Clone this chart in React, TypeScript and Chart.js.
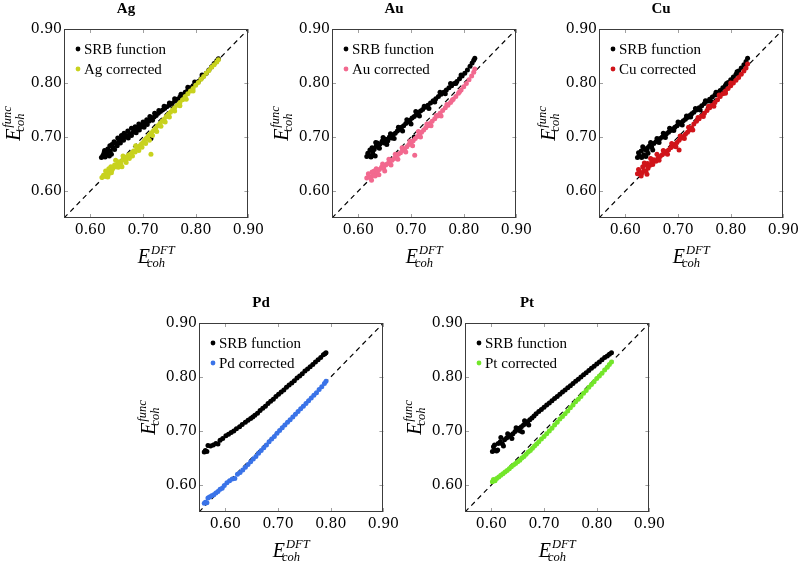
import React, { useEffect, useRef } from "react";
import { Chart, registerables } from "chart.js";

Chart.register(...registerables);

type Pt = [number, number];

const AXIS_MIN = 0.55;
const AXIS_MAX = 0.9;
const TICK_VALUES = [0.6, 0.7, 0.8, 0.9];
const DIAGONAL: Pt[] = [[0.55, 0.55], [0.9, 0.9]];
const SRB_LABEL = "SRB function";
const X_TITLE_SUP = "DFT";
const Y_TITLE_SUP = "func";
const TITLE_SUB = "coh";

const agSrb: Pt[] = [
  [0.621, 0.662], [0.624, 0.666], [0.628, 0.663], [0.632, 0.667], [0.636, 0.665], [0.640, 0.668],
  [0.627, 0.675], [0.633, 0.678], [0.638, 0.674], [0.643, 0.680], [0.646, 0.677], [0.641, 0.686],
  [0.648, 0.688], [0.651, 0.684], [0.654, 0.693], [0.657, 0.689], [0.660, 0.697], [0.663, 0.694],
  [0.666, 0.700], [0.669, 0.703], [0.672, 0.698], [0.675, 0.706], [0.678, 0.703], [0.681, 0.709],
  [0.684, 0.712], [0.687, 0.708], [0.690, 0.716], [0.693, 0.713], [0.696, 0.719], [0.699, 0.722],
  [0.702, 0.718], [0.705, 0.726], [0.708, 0.723], [0.711, 0.729], [0.715, 0.697], [0.714, 0.733],
  [0.718, 0.731], [0.721, 0.737], [0.725, 0.740], [0.729, 0.744], [0.733, 0.747], [0.737, 0.750],
  [0.741, 0.753], [0.745, 0.756], [0.750, 0.759], [0.755, 0.762], [0.760, 0.766], [0.765, 0.770],
  [0.770, 0.774], [0.775, 0.778], [0.780, 0.783], [0.785, 0.787], [0.790, 0.791], [0.795, 0.795],
  [0.800, 0.799], [0.805, 0.803], [0.810, 0.808], [0.815, 0.813], [0.820, 0.818], [0.825, 0.824],
  [0.830, 0.830], [0.835, 0.836], [0.840, 0.841], [0.843, 0.845],
  [0.626, 0.671], [0.631, 0.672], [0.637, 0.684], [0.645, 0.691], [0.652, 0.698], [0.659, 0.703],
  [0.664, 0.707], [0.671, 0.711], [0.678, 0.716], [0.685, 0.719], [0.692, 0.724], [0.700, 0.728],
  [0.707, 0.732], [0.713, 0.738], [0.722, 0.744], [0.730, 0.749], [0.740, 0.757], [0.750, 0.763],
  [0.760, 0.771], [0.772, 0.779], [0.785, 0.792], [0.798, 0.802], [0.812, 0.815],
];
const agCorrected: Pt[] = [
  [0.622, 0.625], [0.625, 0.629], [0.628, 0.627], [0.631, 0.633], [0.634, 0.630], [0.637, 0.636],
  [0.640, 0.634], [0.635, 0.641], [0.639, 0.645], [0.643, 0.642], [0.646, 0.648], [0.649, 0.645],
  [0.652, 0.651], [0.655, 0.654], [0.658, 0.650], [0.660, 0.645], [0.661, 0.657], [0.664, 0.660],
  [0.667, 0.658], [0.670, 0.664], [0.673, 0.667], [0.676, 0.665], [0.679, 0.671], [0.682, 0.674],
  [0.685, 0.672], [0.688, 0.678], [0.691, 0.681], [0.694, 0.684], [0.697, 0.687], [0.700, 0.690],
  [0.703, 0.694], [0.706, 0.697], [0.709, 0.700], [0.712, 0.704], [0.715, 0.668], [0.716, 0.708],
  [0.720, 0.712], [0.724, 0.716], [0.728, 0.721], [0.732, 0.725], [0.736, 0.729], [0.740, 0.733],
  [0.744, 0.738], [0.748, 0.742], [0.752, 0.746], [0.756, 0.750], [0.760, 0.754], [0.765, 0.759],
  [0.770, 0.764], [0.775, 0.769], [0.780, 0.775], [0.785, 0.780], [0.790, 0.785], [0.795, 0.790],
  [0.800, 0.796], [0.805, 0.801], [0.810, 0.807], [0.815, 0.812], [0.820, 0.818], [0.825, 0.823],
  [0.830, 0.829], [0.835, 0.834], [0.840, 0.839], [0.843, 0.843],
  [0.629, 0.637], [0.633, 0.626], [0.641, 0.639], [0.648, 0.657], [0.653, 0.644], [0.662, 0.665],
  [0.668, 0.653], [0.674, 0.660], [0.680, 0.665], [0.686, 0.684], [0.692, 0.675], [0.698, 0.681],
  [0.705, 0.688], [0.712, 0.694], [0.718, 0.703], [0.726, 0.710], [0.734, 0.720], [0.742, 0.728],
  [0.750, 0.737], [0.760, 0.748], [0.770, 0.758], [0.782, 0.770], [0.795, 0.785],
];

const auSrb: Pt[] = [
  [0.616, 0.664], [0.620, 0.666], [0.624, 0.663], [0.628, 0.667], [0.632, 0.665], [0.622, 0.676],
  [0.626, 0.680], [0.630, 0.677], [0.634, 0.684], [0.638, 0.681], [0.636, 0.689], [0.641, 0.687],
  [0.645, 0.692], [0.649, 0.689], [0.652, 0.696], [0.656, 0.693], [0.659, 0.700], [0.663, 0.698],
  [0.666, 0.704], [0.670, 0.707], [0.674, 0.711], [0.678, 0.714], [0.682, 0.718], [0.686, 0.721],
  [0.690, 0.725], [0.694, 0.728], [0.698, 0.731], [0.702, 0.735], [0.706, 0.700], [0.706, 0.738],
  [0.710, 0.741], [0.714, 0.745], [0.718, 0.748], [0.722, 0.751], [0.727, 0.755], [0.732, 0.759],
  [0.737, 0.763], [0.742, 0.767], [0.747, 0.771], [0.752, 0.775], [0.757, 0.779], [0.762, 0.783],
  [0.767, 0.787], [0.772, 0.791], [0.777, 0.795], [0.782, 0.799], [0.787, 0.803], [0.792, 0.808],
  [0.797, 0.813], [0.802, 0.818], [0.807, 0.824], [0.812, 0.831], [0.816, 0.837], [0.819, 0.842],
  [0.821, 0.846],
  [0.618, 0.670], [0.627, 0.672], [0.633, 0.690], [0.640, 0.679], [0.647, 0.699], [0.654, 0.686],
  [0.661, 0.706], [0.668, 0.697], [0.676, 0.718], [0.684, 0.711], [0.692, 0.732], [0.700, 0.724],
  [0.709, 0.747], [0.716, 0.739], [0.725, 0.757], [0.734, 0.753], [0.745, 0.765], [0.755, 0.783],
  [0.765, 0.780], [0.775, 0.799], [0.785, 0.799], [0.795, 0.815],
];
const auCorrected: Pt[] = [
  [0.616, 0.624], [0.620, 0.627], [0.624, 0.625], [0.628, 0.630], [0.632, 0.628], [0.626, 0.635],
  [0.630, 0.637], [0.636, 0.634], [0.640, 0.640], [0.644, 0.644], [0.648, 0.642], [0.652, 0.648],
  [0.656, 0.651], [0.660, 0.654], [0.664, 0.657], [0.668, 0.660], [0.672, 0.664], [0.676, 0.668],
  [0.680, 0.671], [0.684, 0.675], [0.688, 0.678], [0.692, 0.682], [0.696, 0.686], [0.700, 0.689],
  [0.704, 0.693], [0.707, 0.666], [0.708, 0.697], [0.712, 0.701], [0.716, 0.705], [0.720, 0.709],
  [0.724, 0.713], [0.728, 0.717], [0.732, 0.721], [0.736, 0.725], [0.740, 0.729], [0.745, 0.734],
  [0.750, 0.739], [0.755, 0.744], [0.760, 0.749], [0.765, 0.754], [0.770, 0.759], [0.775, 0.764],
  [0.780, 0.770], [0.785, 0.775], [0.790, 0.781], [0.795, 0.787], [0.800, 0.793], [0.805, 0.799],
  [0.810, 0.806], [0.815, 0.813], [0.819, 0.820], [0.821, 0.826],
  [0.619, 0.632], [0.625, 0.620], [0.634, 0.641], [0.639, 0.630], [0.646, 0.650], [0.650, 0.637],
  [0.658, 0.659], [0.662, 0.648], [0.670, 0.668], [0.675, 0.659], [0.683, 0.680], [0.690, 0.672],
  [0.698, 0.692], [0.703, 0.684], [0.714, 0.710], [0.718, 0.700], [0.730, 0.724], [0.738, 0.721],
  [0.748, 0.740], [0.757, 0.739], [0.768, 0.760], [0.778, 0.768], [0.792, 0.784],
];

const cuSrb: Pt[] = [
  [0.623, 0.662], [0.627, 0.665], [0.631, 0.662], [0.635, 0.667], [0.639, 0.664], [0.643, 0.670],
  [0.630, 0.674], [0.637, 0.677], [0.642, 0.680], [0.646, 0.684], [0.650, 0.681], [0.654, 0.688],
  [0.658, 0.691], [0.662, 0.694], [0.666, 0.697], [0.670, 0.700], [0.674, 0.703], [0.678, 0.706],
  [0.682, 0.709], [0.686, 0.712], [0.690, 0.715], [0.694, 0.718], [0.698, 0.721], [0.702, 0.724],
  [0.706, 0.727], [0.710, 0.730], [0.714, 0.733], [0.718, 0.736], [0.722, 0.740], [0.726, 0.743],
  [0.730, 0.746], [0.735, 0.750], [0.740, 0.754], [0.745, 0.758], [0.750, 0.762], [0.755, 0.766],
  [0.760, 0.770], [0.765, 0.774], [0.770, 0.778], [0.775, 0.782], [0.780, 0.786], [0.785, 0.791],
  [0.790, 0.796], [0.795, 0.801], [0.800, 0.806], [0.805, 0.811], [0.810, 0.816], [0.815, 0.822],
  [0.820, 0.828], [0.825, 0.834], [0.829, 0.840], [0.832, 0.846],
  [0.625, 0.671], [0.633, 0.682], [0.641, 0.675], [0.648, 0.690], [0.652, 0.676], [0.660, 0.697],
  [0.664, 0.690], [0.672, 0.707], [0.676, 0.699], [0.684, 0.716], [0.692, 0.712], [0.700, 0.728],
  [0.708, 0.722], [0.716, 0.739], [0.724, 0.737], [0.733, 0.753], [0.742, 0.750], [0.752, 0.767],
  [0.762, 0.766], [0.772, 0.783], [0.782, 0.782], [0.792, 0.799], [0.802, 0.802], [0.812, 0.821],
];
const cuCorrected: Pt[] = [
  [0.623, 0.632], [0.627, 0.635], [0.631, 0.633], [0.635, 0.638], [0.639, 0.636], [0.643, 0.642],
  [0.633, 0.645], [0.638, 0.648], [0.642, 0.651], [0.646, 0.647], [0.650, 0.654], [0.654, 0.658],
  [0.658, 0.655], [0.662, 0.661], [0.666, 0.664], [0.670, 0.667], [0.674, 0.670], [0.678, 0.673],
  [0.682, 0.676], [0.686, 0.680], [0.690, 0.683], [0.694, 0.686], [0.698, 0.690], [0.702, 0.676],
  [0.702, 0.694], [0.706, 0.698], [0.710, 0.701], [0.714, 0.705], [0.718, 0.709], [0.722, 0.713],
  [0.726, 0.717], [0.730, 0.724], [0.735, 0.729], [0.740, 0.734], [0.745, 0.739], [0.750, 0.744],
  [0.755, 0.749], [0.760, 0.754], [0.765, 0.759], [0.770, 0.764], [0.775, 0.769], [0.780, 0.775],
  [0.785, 0.780], [0.790, 0.785], [0.795, 0.790], [0.800, 0.795], [0.805, 0.800], [0.810, 0.805],
  [0.815, 0.810], [0.820, 0.816], [0.825, 0.822], [0.829, 0.828], [0.832, 0.835],
  [0.625, 0.640], [0.630, 0.628], [0.636, 0.652], [0.641, 0.631], [0.648, 0.660], [0.652, 0.649],
  [0.660, 0.668], [0.664, 0.657], [0.672, 0.675], [0.680, 0.668], [0.688, 0.688], [0.696, 0.682],
  [0.704, 0.702], [0.712, 0.697], [0.720, 0.718], [0.728, 0.713], [0.738, 0.736], [0.748, 0.738],
  [0.758, 0.757], [0.768, 0.757], [0.778, 0.778], [0.790, 0.781], [0.800, 0.800],
];

const pdSrb: Pt[] = [
  [0.560, 0.661], [0.562, 0.664], [0.565, 0.662], [0.567, 0.673], [0.572, 0.672], [0.577, 0.674],
  [0.582, 0.677], [0.586, 0.676], [0.590, 0.683], [0.595, 0.686], [0.601, 0.691], [0.606, 0.694],
  [0.611, 0.697], [0.616, 0.700], [0.621, 0.704], [0.627, 0.708], [0.632, 0.712], [0.638, 0.716],
  [0.643, 0.720], [0.648, 0.723], [0.652, 0.726], [0.656, 0.729], [0.661, 0.733], [0.666, 0.738],
  [0.671, 0.742], [0.676, 0.746], [0.681, 0.751], [0.686, 0.755], [0.691, 0.759], [0.696, 0.764],
  [0.701, 0.768], [0.706, 0.772], [0.711, 0.776], [0.716, 0.781], [0.721, 0.785], [0.726, 0.789],
  [0.731, 0.793], [0.736, 0.798], [0.741, 0.802], [0.746, 0.806], [0.751, 0.811], [0.756, 0.815],
  [0.761, 0.819], [0.766, 0.823], [0.771, 0.828], [0.776, 0.832], [0.781, 0.836], [0.786, 0.841],
  [0.789, 0.843], [0.791, 0.845],
];
const pdCorrected: Pt[] = [
  [0.560, 0.566], [0.562, 0.568], [0.565, 0.567], [0.567, 0.576], [0.570, 0.578], [0.574, 0.580],
  [0.578, 0.582], [0.582, 0.585], [0.586, 0.588], [0.590, 0.592], [0.594, 0.594], [0.598, 0.599],
  [0.603, 0.604], [0.608, 0.608], [0.613, 0.611], [0.618, 0.612], [0.623, 0.620], [0.628, 0.623],
  [0.633, 0.628], [0.638, 0.633], [0.643, 0.638], [0.648, 0.643], [0.653, 0.648], [0.658, 0.653],
  [0.663, 0.659], [0.668, 0.664], [0.673, 0.669], [0.678, 0.674], [0.683, 0.680], [0.688, 0.685],
  [0.693, 0.690], [0.698, 0.696], [0.703, 0.701], [0.708, 0.706], [0.713, 0.711], [0.718, 0.716],
  [0.723, 0.721], [0.728, 0.726], [0.733, 0.731], [0.738, 0.736], [0.743, 0.741], [0.748, 0.746],
  [0.753, 0.751], [0.758, 0.756], [0.763, 0.761], [0.768, 0.766], [0.773, 0.771], [0.778, 0.777],
  [0.783, 0.782], [0.788, 0.788], [0.791, 0.792],
];

const ptSrb: Pt[] = [
  [0.602, 0.662], [0.604, 0.671], [0.607, 0.664], [0.610, 0.663], [0.613, 0.677], [0.617, 0.680],
  [0.621, 0.676], [0.625, 0.684], [0.629, 0.687], [0.633, 0.690], [0.637, 0.692], [0.641, 0.695],
  [0.645, 0.699], [0.649, 0.702], [0.653, 0.705], [0.657, 0.708], [0.659, 0.698], [0.661, 0.711],
  [0.665, 0.714], [0.669, 0.717], [0.673, 0.721], [0.677, 0.724], [0.681, 0.728], [0.685, 0.732],
  [0.690, 0.736], [0.695, 0.740], [0.700, 0.744], [0.705, 0.748], [0.710, 0.752], [0.715, 0.756],
  [0.720, 0.760], [0.725, 0.764], [0.730, 0.768], [0.735, 0.772], [0.740, 0.776], [0.745, 0.780],
  [0.750, 0.784], [0.755, 0.788], [0.760, 0.792], [0.765, 0.796], [0.770, 0.800], [0.775, 0.804],
  [0.780, 0.808], [0.785, 0.812], [0.790, 0.816], [0.795, 0.820], [0.800, 0.824], [0.805, 0.828],
  [0.810, 0.832], [0.815, 0.836], [0.820, 0.839], [0.824, 0.842], [0.828, 0.845],
  [0.606, 0.674], [0.612, 0.665], [0.618, 0.688], [0.623, 0.672], [0.631, 0.695], [0.639, 0.686],
  [0.647, 0.706], [0.655, 0.700], [0.663, 0.719], [0.671, 0.711],
];
const ptCorrected: Pt[] = [
  [0.602, 0.606], [0.604, 0.610], [0.607, 0.608], [0.610, 0.612], [0.614, 0.615], [0.618, 0.618],
  [0.622, 0.621], [0.626, 0.624], [0.630, 0.627], [0.634, 0.630], [0.638, 0.634], [0.642, 0.637],
  [0.646, 0.640], [0.650, 0.643], [0.654, 0.646], [0.658, 0.650], [0.662, 0.653], [0.666, 0.657],
  [0.670, 0.661], [0.674, 0.664], [0.678, 0.668], [0.682, 0.672], [0.686, 0.676], [0.690, 0.680],
  [0.695, 0.685], [0.700, 0.690], [0.705, 0.695], [0.710, 0.700], [0.715, 0.705], [0.720, 0.711],
  [0.725, 0.716], [0.730, 0.722], [0.735, 0.727], [0.740, 0.732], [0.745, 0.737], [0.750, 0.743],
  [0.755, 0.748], [0.760, 0.754], [0.765, 0.759], [0.770, 0.764], [0.775, 0.770], [0.780, 0.775],
  [0.785, 0.781], [0.790, 0.786], [0.795, 0.791], [0.800, 0.797], [0.805, 0.802], [0.810, 0.807],
  [0.815, 0.813], [0.820, 0.818], [0.824, 0.823], [0.828, 0.828],
];

const PANELS = [
  { metal: "Ag", color: "#c8d21e", srb: agSrb, corrected: agCorrected, left: 0, top: 0 },
  { metal: "Au", color: "#f2698f", srb: auSrb, corrected: auCorrected, left: 268, top: 0 },
  { metal: "Cu", color: "#d0141a", srb: cuSrb, corrected: cuCorrected, left: 535, top: 0 },
  { metal: "Pd", color: "#3a73e8", srb: pdSrb, corrected: pdCorrected, left: 135, top: 294 },
  { metal: "Pt", color: "#73e62a", srb: ptSrb, corrected: ptCorrected, left: 401, top: 294 },
];

const CANVAS_W = 268;
const CANVAS_H = 268;

const toXY = (arr: Pt[]) => arr.map(([x, y]) => ({ x, y }));

function drawEcoh(ctx: CanvasRenderingContext2D, sup: string, cx: number, cy: number, vertical: boolean) {
  const big = 'italic 20px "Liberation Serif"';
  const small = 'italic 12.5px "Liberation Serif"';
  ctx.save();
  ctx.font = big;
  const wE = ctx.measureText("E").width;
  ctx.font = small;
  const wSup = ctx.measureText(sup).width;
  const wSub = ctx.measureText(TITLE_SUB).width;
  const total = wE + Math.max(wSup + 1, wSub - 2);
  ctx.translate(cx, cy);
  if (vertical) ctx.rotate(-Math.PI / 2);
  const x0 = -total / 2;
  ctx.fillStyle = "#000";
  ctx.textAlign = "left";
  ctx.textBaseline = "alphabetic";
  ctx.font = big;
  ctx.fillText("E", x0, 0);
  ctx.font = small;
  ctx.fillText(sup, x0 + wE + 1, -9);
  ctx.fillText(TITLE_SUB, x0 + wE - 3, 4);
  ctx.restore();
}

const decorPlugin = {
  id: "panelDecor",
  afterDatasetsDraw(chart: any) {
    const { ctx, chartArea: a, scales } = chart;
    const xs = scales.x;
    const ys = scales.y;
    ctx.save();
    ctx.strokeStyle = "#a0a0a0";
    ctx.lineWidth = 1;
    ctx.beginPath();
    for (const v of TICK_VALUES) {
      const px = Math.round(xs.getPixelForValue(v)) + 0.5;
      ctx.moveTo(px, a.bottom);
      ctx.lineTo(px, a.bottom - 4);
      ctx.moveTo(px, a.top);
      ctx.lineTo(px, a.top + 4);
      const py = Math.round(ys.getPixelForValue(v)) + 0.5;
      ctx.moveTo(a.left, py);
      ctx.lineTo(a.left + 4, py);
      ctx.moveTo(a.right, py);
      ctx.lineTo(a.right - 4, py);
    }
    ctx.stroke();
    ctx.strokeStyle = "#3c3c3c";
    ctx.strokeRect(Math.round(a.left) + 0.5, Math.round(a.top) + 0.5, Math.round(a.width) - 1, Math.round(a.height) - 1);
    ctx.restore();
  },
  afterDraw(chart: any) {
    const { ctx, chartArea: a } = chart;
    const items = chart.data.datasets.filter((d: any) => d.label);
    ctx.save();
    items.forEach((d: any, i: number) => {
      const yy = a.top + 20 + i * 20;
      ctx.beginPath();
      ctx.arc(a.left + 14, yy, 2.4, 0, Math.PI * 2);
      ctx.fillStyle = d.backgroundColor;
      ctx.fill();
      ctx.font = '15px "Liberation Serif"';
      ctx.fillStyle = "#000";
      ctx.textAlign = "left";
      ctx.textBaseline = "middle";
      ctx.fillText(d.label, a.left + 20, yy + 1);
    });
    ctx.restore();
    drawEcoh(ctx, X_TITLE_SUP, (a.left + a.right) / 2, a.bottom + 45, false);
    drawEcoh(ctx, Y_TITLE_SUP, a.left - 44, (a.top + a.bottom) / 2, true);
  },
};

function Panel(props: { metal: string; color: string; srb: Pt[]; corrected: Pt[]; left: number; top: number }) {
  const ref = useRef<HTMLCanvasElement | null>(null);
  useEffect(() => {
    if (!ref.current) return;
    const tickFont = { family: "DejaVu Serif", size: 14 };
    const chart = new Chart(ref.current, {
      type: "scatter",
      data: {
        datasets: [
          {
            type: "line",
            data: toXY(DIAGONAL),
            borderColor: "#000",
            borderWidth: 1.2,
            borderDash: [5, 4],
            pointRadius: 0,
            showLine: true,
            fill: false,
            order: 3,
          } as any,
          {
            label: SRB_LABEL,
            data: toXY(props.srb),
            backgroundColor: "#000",
            borderColor: "#000",
            pointRadius: 2.5,
            pointBorderWidth: 0,
            order: 2,
          },
          {
            label: `${props.metal} corrected`,
            data: toXY(props.corrected),
            backgroundColor: props.color,
            borderColor: props.color,
            pointRadius: 2.5,
            pointBorderWidth: 0,
            order: 1,
          },
        ],
      },
      options: {
        responsive: false,
        animation: false,
        devicePixelRatio: 1,
        events: [],
        layout: { padding: { left: 0, right: 16, top: 0, bottom: 0 }, autoPadding: false },
        plugins: {
          legend: { display: false },
          tooltip: { enabled: false },
          title: {
            display: true,
            text: props.metal,
            color: "#000",
            font: { family: "Liberation Serif", size: 15, weight: "bold" },
            padding: { top: 0, bottom: 11 },
          },
        },
        scales: {
          x: {
            type: "linear",
            min: AXIS_MIN,
            max: AXIS_MAX,
            afterBuildTicks: (s: any) => {
              s.ticks = TICK_VALUES.map((v) => ({ value: v }));
            },
            afterFit: (s: any) => {
              s.height = 50;
            },
            ticks: {
              callback: (v: any) => Number(v).toFixed(2),
              font: tickFont,
              color: "#000",
              padding: 4,
              maxRotation: 0,
              autoSkip: false,
            },
            grid: { display: false, drawTicks: false },
            border: { display: false },
          },
          y: {
            type: "linear",
            min: AXIS_MIN,
            max: AXIS_MAX,
            afterBuildTicks: (s: any) => {
              s.ticks = TICK_VALUES.map((v) => ({ value: v }));
            },
            afterFit: (s: any) => {
              s.width = 64;
            },
            ticks: {
              callback: (v: any) => Number(v).toFixed(2),
              font: tickFont,
              color: "#000",
              padding: 2,
              autoSkip: false,
            },
            grid: { display: false, drawTicks: false },
            border: { display: false },
          },
        },
      } as any,
      plugins: [decorPlugin],
    });
    return () => chart.destroy();
  }, []);
  return (
    <canvas
      ref={ref}
      width={CANVAS_W}
      height={CANVAS_H}
      style={{ position: "absolute", left: props.left, top: props.top, width: CANVAS_W, height: CANVAS_H }}
    />
  );
}

export default function App() {
  return (
    <div
      style={{
        position: "fixed",
        left: 0,
        top: 0,
        width: 802,
        height: 562,
        overflow: "hidden",
        background: "#fff",
      }}
    >
      {PANELS.map((p) => (
        <Panel key={p.metal} {...p} />
      ))}
    </div>
  );
}
